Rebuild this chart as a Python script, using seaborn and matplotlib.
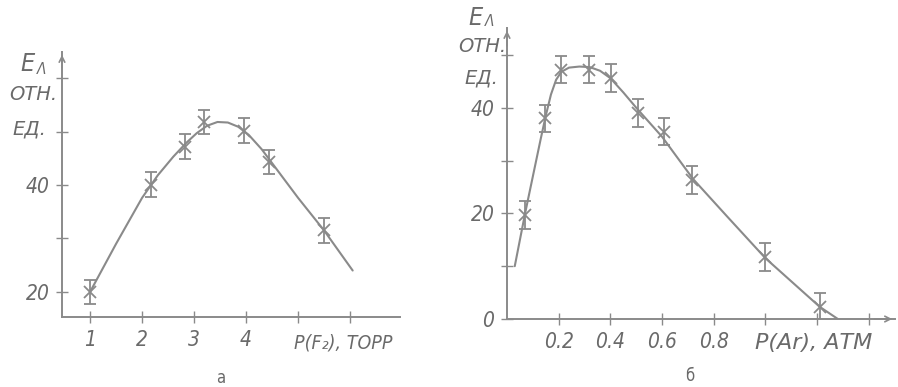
import matplotlib.pyplot as plt
import seaborn as sns
import pandas as pd

# --- panel a: E vs P(F2), torr ---
a_pts_x = [1.0, 2.17, 2.83, 3.2, 3.96, 4.44, 5.5]
a_pts_y = [20.0, 40.1, 47.2, 51.8, 50.2, 44.3, 31.5]
a_err = [2.3, 2.3, 2.3, 2.3, 2.3, 2.3, 2.3]
a_curve_x = [1.0, 1.5, 2.0, 2.3, 2.6, 2.85, 3.05, 3.25, 3.45, 3.65, 3.85,
             4.05, 4.3, 4.6, 5.0, 5.5, 6.05]
a_curve_y = [20.0, 29.0, 37.6, 41.8, 45.3, 47.9, 49.7, 51.1, 51.8, 51.7, 50.9,
             49.4, 46.7, 42.8, 37.6, 31.5, 24.0]
a_xticks = [1, 2, 3, 4, 5, 6]
a_xlabels = ['1', '2', '3', '4', '', '']
a_yticks = [20, 30, 40, 50, 60]
a_ylabels = ['20', '', '40', '', '']

# --- panel b: E vs P(Ar), atm ---
b_pts_x = [0.07, 0.147, 0.21, 0.317, 0.402, 0.508, 0.607, 0.717, 1.0, 1.21]
b_pts_y = [19.7, 38.0, 47.2, 47.2, 45.6, 39.0, 35.5, 26.3, 11.7, 2.3]
b_err = [2.6, 2.6, 2.6, 2.6, 2.6, 2.6, 2.6, 2.6, 2.6, 2.6]
b_curve_x = [0.03, 0.07, 0.10, 0.13, 0.15, 0.17, 0.19, 0.21, 0.24, 0.28, 0.32,
             0.36, 0.40, 0.45, 0.50, 0.60, 0.72, 0.85, 1.00, 1.21, 1.28]
b_curve_y = [10.0, 20.0, 27.0, 34.0, 38.5, 42.5, 45.3, 46.8, 47.6, 47.8, 47.7,
             47.0, 45.6, 42.9, 40.0, 34.5, 26.5, 19.5, 11.5, 2.3, 0.0]
b_xticks = [0.2, 0.4, 0.6, 0.8, 1.0, 1.2, 1.4]
b_xlabels = ['0.2', '0.4', '0.6', '0.8', '', '', '']
b_yticks = [0, 10, 20, 30, 40, 50]
b_ylabels = ['0', '', '20', '', '40', '']

ink = '#8a8a8a'
txt = '#6a6a6a'

sns.set_style('white')
plt.rcParams['font.family'] = ['DejaVu Sans']
plt.rcParams['font.stretch'] = 'condensed'
plt.rcParams['font.style'] = 'italic'

fig = plt.figure(figsize=(8.98, 3.87), dpi=100)
axA = fig.add_axes([62/898, 70/387, 338/898, 265/387])
axB = fig.add_axes([507/898, 68/387, 388/898, 291/387])


def style_axes(ax, xlim, ylim, xt, xl, yt, yl, xarrow):
    ax.set_xlim(*xlim)
    ax.set_ylim(*ylim)
    for s in ['top', 'right']:
        ax.spines[s].set_visible(False)
    for s in ['left', 'bottom']:
        ax.spines[s].set_color(ink)
        ax.spines[s].set_linewidth(1.4)
    ax.set_xticks(xt, xl)
    ax.set_yticks(yt, yl)
    ax.tick_params(bottom=True, left=True, direction='inout', length=8,
                   width=1, color=ink, labelcolor=txt, labelsize=15, pad=5)
    ax.set_xlabel('')
    ax.set_ylabel('')
    ax.annotate('', xy=(0, 1.0), xytext=(0, 0.93), xycoords='axes fraction',
                arrowprops=dict(arrowstyle='->', color=ink, lw=1.2))
    if xarrow:
        ax.annotate('', xy=(1.0, 0), xytext=(0.94, 0), xycoords='axes fraction',
                    arrowprops=dict(arrowstyle='->', color=ink, lw=1.2))


dfa = pd.DataFrame({'x': a_curve_x, 'y': a_curve_y})
sns.lineplot(data=dfa, x='x', y='y', ax=axA, color=ink, lw=1.5, sort=False)
axA.errorbar(a_pts_x, a_pts_y, yerr=a_err, fmt='x', color=ink, ms=8, mew=1.3,
             capsize=4, elinewidth=1.3)
style_axes(axA, (0.46, 6.96), (15.3, 64.9), a_xticks, a_xlabels,
           a_yticks, a_ylabels, False)

dfb = pd.DataFrame({'x': b_curve_x, 'y': b_curve_y})
sns.lineplot(data=dfb, x='x', y='y', ax=axB, color=ink, lw=1.5, sort=False)
axB.errorbar(b_pts_x, b_pts_y, yerr=b_err, fmt='x', color=ink, ms=8, mew=1.3,
             capsize=4, elinewidth=1.3)
style_axes(axB, (0, 1.501), (0, 55.1), b_xticks, b_xlabels,
           b_yticks, b_ylabels, True)


# axis captions, placed in pixel coords of the page
def ptext(x, y, s, size=15, ha='left', style='italic', stretch='condensed'):
    fig.text(x/898, 1 - y/387, s, fontsize=size, color=txt, ha=ha,
             va='center', style=style, fontstretch=stretch)


ptext(20, 64, 'Е', 18)
ptext(37, 70, 'Λ', 11)
ptext(9, 94, 'ОТН.', 14, stretch='normal')
ptext(12, 129, 'ЕД.', 14, stretch='normal')
ptext(294, 343, 'P(F₂), ТОРР', 14)

ptext(468, 18, 'Е', 18)
ptext(485, 22, 'Λ', 11)
ptext(458, 46, 'ОТН.', 14, stretch='normal')
ptext(464, 78, 'ЕД.', 14, stretch='normal')
ptext(755, 343, 'P(Ar), АТМ', 16, stretch='normal')

ptext(221, 378, 'а', 12, 'center', 'normal')
ptext(690, 376, 'б', 12, 'center', 'normal')

plt.savefig('out.png', dpi=100)
